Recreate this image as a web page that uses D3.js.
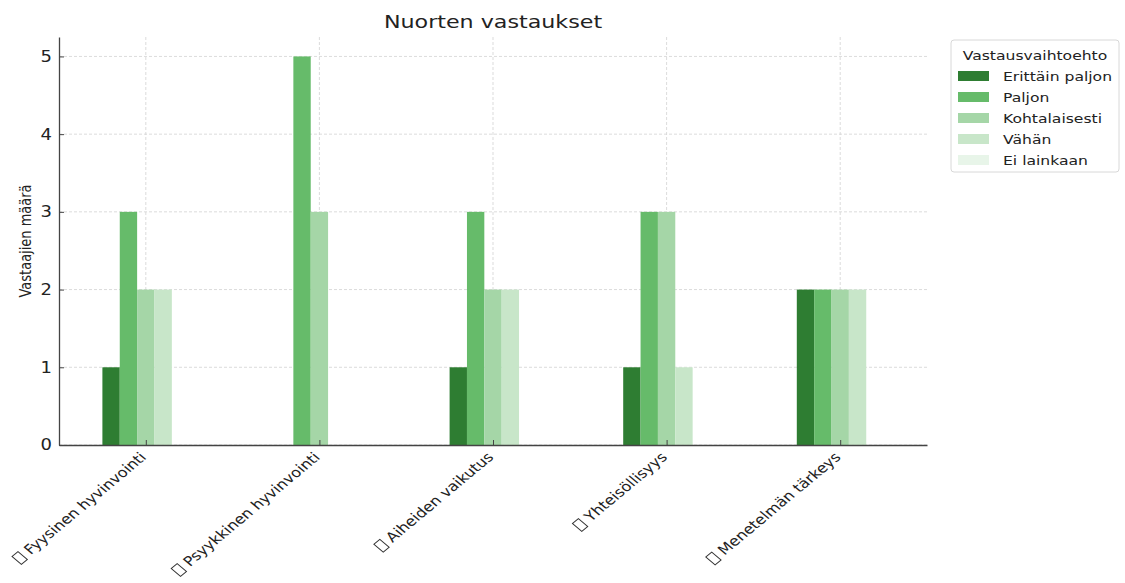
<!DOCTYPE html>
<html><head><meta charset="utf-8">
<script src="https://cdn.jsdelivr.net/npm/d3@7"></script>
<style>body{margin:0;background:#fff;} text{font-family:"DejaVu Sans",sans-serif;}</style>
</head><body>
<svg id="c" width="1125" height="583"></svg>
<script>
const categories = ["Fyysinen hyvinvointi","Psyykkinen hyvinvointi","Aiheiden vaikutus","Yhteisöllisyys","Menetelmän tärkeys"];
const seriesNames = ["Erittäin paljon","Paljon","Kohtalaisesti","Vähän","Ei lainkaan"];
const erittainPaljon = [1,0,1,1,2];
const paljon = [3,5,3,3,2];
const kohtalaisesti = [2,3,2,3,2];
const vahan = [2,0,2,1,2];
const eiLainkaan = [0,0,0,0,0];
const seriesValues = [erittainPaljon, paljon, kohtalaisesti, vahan, eiLainkaan];
const colors = ["#2e7d32","#66bb6a","#a5d6a7","#c8e6c9","#e8f5e9"];
const yTicks = [0,1,2,3,4,5];

const SX = 1.2; // horizontal text stretch of the reference
const svg = d3.select("#c");
const L=59,R=927,T=37,B=445;
const x = d3.scaleLinear().domain([-0.5,4.5]).range([L,R]);
const y = d3.scaleLinear().domain([0,5.25]).range([B,T]);

// grid
const g = svg.append("g");
g.selectAll(".gy").data(yTicks).enter().append("line")
 .attr("x1",L).attr("x2",R).attr("y1",d=>y(d)).attr("y2",d=>y(d))
 .attr("stroke","#d2d2d2").attr("stroke-width",0.8).attr("stroke-dasharray","3,2");
g.selectAll(".gx").data(categories).enter().append("line")
 .attr("x1",(d,i)=>x(i)).attr("x2",(d,i)=>x(i)).attr("y1",T).attr("y2",B)
 .attr("stroke","#d2d2d2").attr("stroke-width",0.8).attr("stroke-dasharray","3,2");

// bars
const bw = 0.1;
seriesValues.forEach((vals,s)=>{
  svg.append("g").selectAll("rect").data(vals).enter().append("rect")
   .attr("x",(d,i)=>x(i-0.25+s*bw))
   .attr("width",x(bw)-x(0))
   .attr("y",d=>y(d)).attr("height",d=>y(0)-y(d))
   .attr("fill",colors[s]);
});

// axes
const yAxis = d3.axisLeft(y).tickValues(yTicks).tickFormat(d3.format("d")).tickSizeInner(-5).tickSizeOuter(0);
const ya = svg.append("g").attr("transform",`translate(${L},0)`).call(yAxis);
ya.select(".domain").attr("stroke","#444").attr("stroke-width",1.3);
ya.selectAll(".tick line").attr("stroke","#444");
ya.selectAll(".tick text").attr("font-size",15).attr("fill","#222").attr("font-family","DejaVu Sans")
  .attr("x",0).attr("dy",0).attr("text-anchor","end").attr("dominant-baseline","central")
  .attr("transform",`translate(-7,0) scale(${SX},1)`);

const xAxis = d3.axisBottom(x).tickValues([0,1,2,3,4]).tickFormat(()=>"").tickSizeInner(-5).tickSizeOuter(0);
const xa = svg.append("g").attr("transform",`translate(0,${B})`).call(xAxis);
xa.select(".domain").attr("stroke","#444").attr("stroke-width",1.3);
xa.selectAll(".tick line").attr("stroke","#444");
xa.selectAll(".tick").each(function(d,i){
  const lg = d3.select(this).append("g").attr("transform",`translate(1,13) scale(${SX},1) rotate(-45)`);
  const t = lg.append("text").attr("text-anchor","end").attr("font-size",13.5).attr("fill","#222")
    .attr("font-family","DejaVu Sans").text(categories[i]);
  const len = t.node().getComputedTextLength();
  // missing-glyph box shown before each label in the reference
  lg.append("rect").attr("x",-len-12).attr("y",-10).attr("width",7).attr("height",11)
    .attr("fill","none").attr("stroke","#333").attr("stroke-width",0.9);
});

// title & labels
svg.append("text").attr("transform",`translate(${(L+R)/2},28) scale(${SX},1)`).attr("text-anchor","middle")
 .attr("font-size",18.5).attr("fill","#222").text("Nuorten vastaukset");
svg.append("text").attr("transform",`translate(31,${(T+B)/2}) scale(${SX},1) rotate(-90)`)
 .attr("text-anchor","middle").attr("font-size",13).attr("fill","#222").text("Vastaajien määrä");

// legend
const lgd = svg.append("g");
lgd.append("rect").attr("x",951).attr("y",40).attr("width",168).attr("height",132).attr("rx",3)
 .attr("fill","#fff").attr("stroke","#d8d8d8");
lgd.append("text").attr("transform",`translate(1035,60) scale(${SX},1)`).attr("text-anchor","middle").attr("font-size",13).attr("fill","#222").text("Vastausvaihtoehto");
seriesNames.forEach((n,i)=>{
  const yy = 76 + i*21;
  lgd.append("rect").attr("x",958).attr("y",yy-5).attr("width",31).attr("height",10).attr("fill",colors[i]);
  lgd.append("text").attr("transform",`translate(1003,${yy+5}) scale(${SX},1)`).attr("font-size",13).attr("fill","#222").text(n);
});
</script>
</body></html>
